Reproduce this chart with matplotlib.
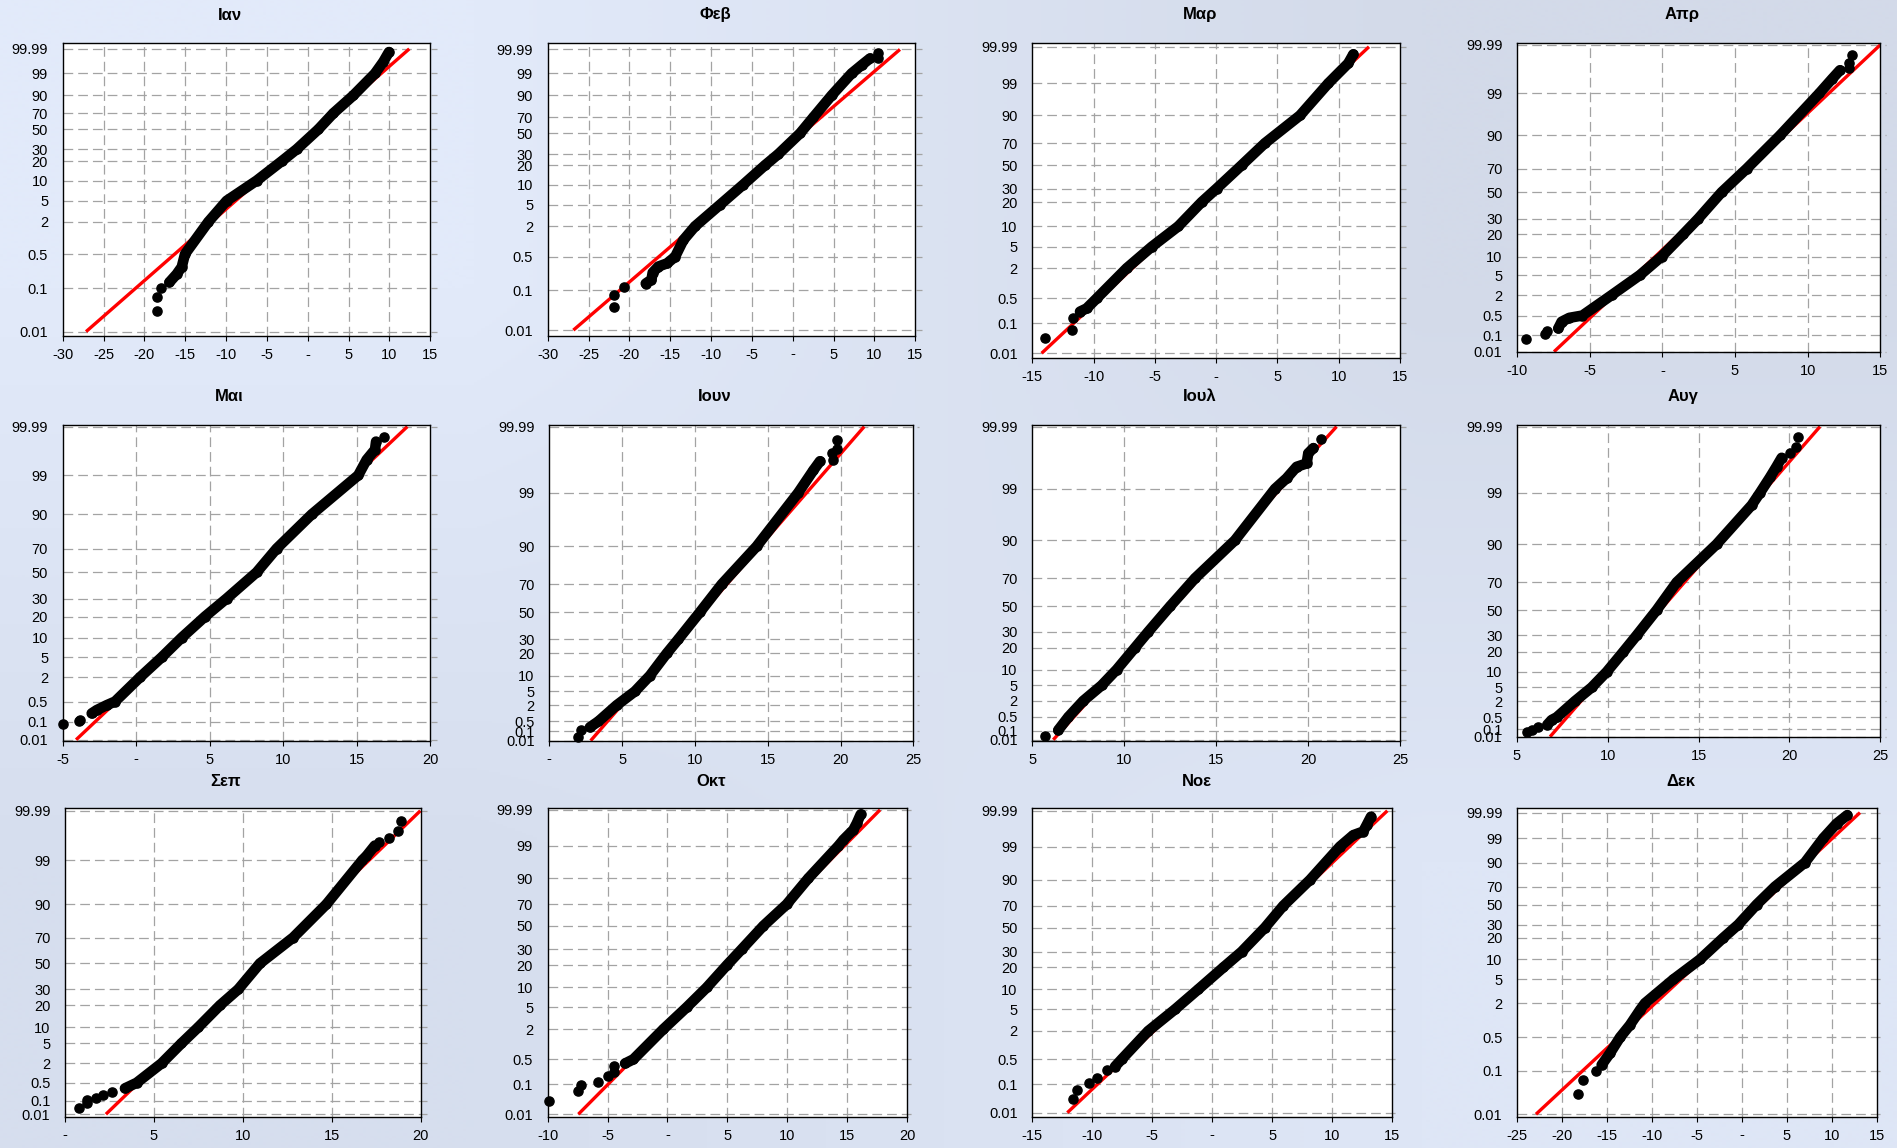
import matplotlib
matplotlib.use("Agg")
import matplotlib.pyplot as plt
import numpy as np
from statistics import NormalDist

plt.rcParams['font.family'] = ['Liberation Sans', 'DejaVu Sans']
plt.rcParams['lines.scale_dashes'] = False

W, H, DPI = 1897, 1148, 100

# probability axis (cumulative %, normal probability paper)
levels = [0.01, 0.1, 0.5, 2, 5, 10, 20, 30, 50, 70, 90, 99, 99.99]
level_labels = ['0.01', '0.1', '0.5', '2', '5', '10', '20', '30', '50', '70', '90', '99', '99.99']

months = ['Ιαν', 'Φεβ', 'Μαρ', 'Απρ', 'Μαι', 'Ιουν', 'Ιουλ', 'Αυγ', 'Σεπ', 'Οκτ', 'Νοε', 'Δεκ']
x_range = [(-30, 15), (-30, 15), (-15, 15), (-10, 15),
           (-5, 20), (0, 25), (5, 25), (5, 25),
           (0, 20), (-10, 20), (-15, 15), (-25, 15)]

# ordered sample values (x) and their plotting positions (cumulative %)
jan_x = [9.94, 9.25, 8.23, 5.58, 3.13, 1.29, -1.36, -3.2, -6.25, -9.93, -12.17, -15.03, -15.43, -16.05, -16.94, -17.92, -18.41, -18.41]
jan_p = [99.98, 99.86, 99, 90, 70, 50, 30, 20, 10, 5, 2, 0.5, 0.28, 0.2, 0.135, 0.1, 0.066, 0.031]
feb_x = [10.47, 10.47, 9.45, 8.43, 7.2, 4.76, 2.52, 0.89, -1.77, -3.4, -6.05, -8.9, -11.97, -13.4, -14.4, -15.4, -16.45, -17.15, -17.3, -18.0, -20.66, -21.9, -21.9]
feb_p = [99.98, 99.93, 99.93, 99.75, 99, 90, 70, 50, 30, 20, 10, 5, 2, 1.1, 0.5, 0.37, 0.32, 0.24, 0.17, 0.14, 0.12, 0.077, 0.04]
mar_x = [11.19, 10.78, 9.15, 6.84, 3.98, 2.08, 0.04, -1.18, -3.09, -5.26, -7.3, -9.75, -10.57, -11.11, -11.65, -11.79, -13.94]
mar_p = [99.97, 99.9, 99, 90, 70, 50, 30, 20, 10, 5, 2, 0.5, 0.27, 0.22, 0.14, 0.062, 0.034]
apr_x = [13.03, 12.87, 12.87, 12.22, 11.65, 10.8, 8.1, 5.8, 4.08, 2.48, 1.44, -0.05, -1.54, -3.49, -5.5, -6.4, -6.93, -7.16, -7.91, -8.07, -9.38]
apr_p = [99.97, 99.93, 99.89, 99.86, 99.68, 99, 90, 70, 50, 30, 20, 10, 5, 2, 0.5, 0.42, 0.31, 0.18, 0.14, 0.11, 0.062]
may_x = [16.85, 16.31, 16.24, 15.67, 15.1, 11.93, 9.55, 8.19, 6.15, 4.68, 3.09, 1.73, 0.26, -1.44, -2.01, -2.69, -3.03, -3.8, -3.87, -5.0]
may_p = [99.97, 99.95, 99.89, 99.72, 99, 90, 70, 50, 30, 20, 10, 5, 2, 0.5, 0.38, 0.26, 0.2, 0.12, 0.11, 0.077]
jun_x = [19.73, 19.73, 19.39, 19.5, 18.59, 18.13, 17.1, 14.24, 11.84, 10.35, 8.86, 8.06, 6.91, 5.88, 4.62, 3.37, 2.79, 2.15, 1.99]
jun_p = [99.97, 99.94, 99.92, 99.87, 99.86, 99.74, 99, 90, 70, 50, 30, 20, 10, 5, 2, 0.5, 0.2, 0.13, 0.028]
jul_x = [20.7, 20.29, 20.01, 19.92, 19.38, 18.83, 18.2, 16.02, 13.85, 12.49, 11.31, 10.58, 9.59, 8.77, 7.77, 6.96, 6.41, 5.69]
jul_p = [99.97, 99.94, 99.91, 99.81, 99.76, 99.48, 99, 90, 70, 50, 30, 20, 10, 5, 2, 0.5, 0.11, 0.028]
aug_x = [20.49, 20.36, 20.03, 19.57, 19.29, 18.93, 18.38, 17.92, 15.99, 13.79, 12.69, 11.59, 10.85, 9.94, 9.11, 8.19, 7.18, 6.91, 6.67, 6.14, 5.81, 5.53]
aug_p = [99.976, 99.95, 99.92, 99.89, 99.8, 99.6, 99, 98.1, 90, 70, 50, 30, 20, 10, 5, 2, 0.5, 0.36, 0.19, 0.135, 0.082, 0.04]
sep_x = [18.91, 18.73, 18.22, 17.66, 17.42, 16.95, 16.72, 14.7, 12.83, 10.96, 9.74, 8.71, 7.49, 6.55, 5.43, 4.03, 3.37, 2.62, 2.15, 1.74, 1.25, 1.25, 0.81]
sep_p = [99.97, 99.92, 99.84, 99.77, 99.69, 99.27, 99, 90, 70, 50, 30, 20, 10, 5, 2, 0.5, 0.31, 0.23, 0.17, 0.13, 0.11, 0.074, 0.032]
oct_x = [16.13, 15.8, 15.52, 14.69, 14.27, 11.76, 9.96, 8.01, 6.2, 4.95, 3.28, 1.61, -0.34, -2.85, -3.54, -4.46, -4.46, -4.93, -5.77, -7.24, -7.44, -9.92]
oct_p = [99.98, 99.93, 99.84, 99.48, 99, 90, 70, 50, 30, 20, 10, 5, 2, 0.5, 0.39, 0.34, 0.23, 0.18, 0.12, 0.097, 0.06, 0.028]
nov_x = [13.25, 12.88, 12.6, 11.77, 10.66, 8.16, 5.93, 4.4, 2.46, 0.93, -1.16, -3.1, -5.33, -7.55, -8.11, -8.8, -9.63, -10.27, -11.3, -11.64]
nov_p = [99.976, 99.92, 99.82, 99.72, 99, 90, 70, 50, 30, 20, 10, 5, 2, 0.5, 0.32, 0.26, 0.15, 0.107, 0.064, 0.031]
dec_x = [11.73, 10.54, 9.06, 7.02, 3.69, 1.65, -0.39, -2.06, -4.65, -7.62, -10.77, -11.32, -12.44, -13.55, -14.66, -15.59, -16.25, -17.62, -18.25]
dec_p = [99.983, 99.91, 99, 90, 70, 50, 30, 20, 10, 5, 2, 1.55, 0.85, 0.5, 0.24, 0.135, 0.097, 0.064, 0.031]

values = [jan_x, feb_x, mar_x, apr_x, may_x, jun_x, jul_x, aug_x, sep_x, oct_x, nov_x, dec_x]
probs = [jan_p, feb_p, mar_p, apr_p, may_p, jun_p, jul_p, aug_p, sep_p, oct_p, nov_p, dec_p]

# how many of the largest / smallest values stand apart from the dense run
top_single = [0, 2, 0, 3, 1, 4, 1, 3, 4, 0, 0, 0]
bottom_single = [3, 3, 3, 3, 3, 2, 1, 3, 6, 7, 5, 3]

# fitted normal line: value at 0.01 % and at 99.99 %
fit_lo = [-27.14, -26.86, -14.24, -7.45, -4.09, 2.84, 6.14, 6.82, 2.30, -7.44, -12.08, -22.89]
fit_hi = [12.43, 13.12, 12.47, 15.0, 18.44, 21.63, 21.55, 21.68, 19.98, 17.75, 14.61, 13.14]

# height of each probability gridline inside its panel (axes fraction)
grid_frac = [
    [0.015, 0.163, 0.280, 0.390, 0.462, 0.531, 0.597, 0.638, 0.706, 0.761, 0.822, 0.897, 0.981],
    [0.019, 0.156, 0.270, 0.374, 0.448, 0.517, 0.583, 0.621, 0.692, 0.747, 0.822, 0.897, 0.979],
    [0.016, 0.111, 0.190, 0.286, 0.354, 0.419, 0.496, 0.539, 0.613, 0.683, 0.771, 0.873, 0.989],
    [0.002, 0.055, 0.119, 0.185, 0.250, 0.310, 0.382, 0.433, 0.518, 0.594, 0.702, 0.838, 0.995],
    [0.003, 0.060, 0.124, 0.201, 0.264, 0.326, 0.393, 0.450, 0.533, 0.608, 0.716, 0.840, 0.994],
    [0.000, 0.030, 0.061, 0.112, 0.156, 0.206, 0.276, 0.321, 0.407, 0.495, 0.615, 0.785, 0.994],
    [0.003, 0.031, 0.075, 0.126, 0.175, 0.225, 0.294, 0.345, 0.425, 0.514, 0.634, 0.797, 0.994],
    [0.000, 0.024, 0.062, 0.114, 0.158, 0.208, 0.272, 0.325, 0.406, 0.495, 0.617, 0.782, 0.994],
    [0.008, 0.052, 0.110, 0.173, 0.238, 0.290, 0.361, 0.413, 0.497, 0.581, 0.689, 0.832, 0.992],
    [0.008, 0.105, 0.186, 0.284, 0.355, 0.419, 0.491, 0.543, 0.619, 0.689, 0.773, 0.878, 0.995],
    [0.013, 0.105, 0.186, 0.278, 0.348, 0.413, 0.484, 0.535, 0.613, 0.684, 0.768, 0.876, 0.992],
    [0.008, 0.149, 0.257, 0.368, 0.445, 0.510, 0.580, 0.623, 0.688, 0.746, 0.824, 0.903, 0.986],
]

# panel frames in pixels: left, right, top, bottom
frames = [(62.7, 430.3, 43.3, 336.0), (547.7, 915.3, 43.3, 335.7), (1032.3, 1400, 43.3, 358.3), (1517, 1880.3, 43.3, 352.3),
          (62.7, 430.3, 424.7, 740.7), (549.3, 913.3, 424.7, 740.7), (1032.3, 1400, 424.7, 740.7), (1517, 1880.3, 424.7, 736.7),
          (65, 420.7, 808.3, 1116.7), (547.7, 907, 808.3, 1116.7), (1032.3, 1392, 808.3, 1116.7), (1517, 1876.7, 808.3, 1116.7)]
title_xy = [(230, 15), (715, 15), (1200, 15), (1682, 15),
            (229, 396), (715, 396), (1200, 396), (1683, 396),
            (226, 782), (711, 782), (1197, 782), (1681, 782)]

nd = NormalDist()
level_z = [nd.inv_cdf(v / 100) for v in levels]


def prob_to_frac(p, fr):
    z = [nd.inv_cdf(v / 100) for v in p]
    return np.interp(z, level_z, fr)


fig = plt.figure(figsize=(W / DPI, H / DPI), dpi=DPI)

# background gradient
bg = fig.add_axes([0, 0, 1, 1], zorder=-10)
corners = np.array([[[214, 222, 238], [222, 230, 246]],
                    [[226, 234, 250], [211, 218, 233]]]) / 255.0
bg.imshow(corners, extent=[0, 1, 0, 1], aspect='auto', interpolation='bilinear', origin='lower')
bg.axis('off')

grid_kw = dict(color='#a3a3a3', lw=0.9, dashes=(7, 3.6))
dot_kw = dict(color='black', zorder=3, clip_on=False)

for i, name in enumerate(months):
    l, r, t, b = frames[i]
    ax = fig.add_axes([l / W, 1 - b / H, (r - l) / W, (b - t) / H])
    ax.set_facecolor('white')
    x0, x1 = x_range[i]
    ax.set_xlim(x0, x1)
    ax.set_ylim(0, 1)
    fr = grid_frac[i]

    # grid
    xt = np.arange(x0, x1 + 0.1, 5)
    for xv in xt[1:-1]:
        ax.plot([xv, xv], [0, 1], zorder=1, **grid_kw)
    for f in fr:
        ax.plot([0, 1.017], [f, f], transform=ax.get_yaxis_transform(),
                clip_on=False, zorder=1, **grid_kw)

    # fitted line
    ax.plot([fit_lo[i], fit_hi[i]], prob_to_frac([levels[0], levels[-1]], fr),
            color='#ff0000', lw=2.4, zorder=2, solid_capstyle='butt')

    # sample points: dense run drawn as a thick trace, plus every point as a dot
    xs = np.array(values[i], dtype=float)
    ys = prob_to_frac(probs[i], fr)
    a, e = top_single[i], len(xs) - bottom_single[i]
    ax.plot(xs[a:e], ys[a:e], lw=7.6, solid_capstyle='round',
            solid_joinstyle='round', **dot_kw)
    ax.plot(xs, ys, 'o', ms=6.6, **dot_kw)

    # axes styling
    for s in ax.spines.values():
        s.set_color('black')
        s.set_linewidth(1.0)
        s.set_zorder(4)
    ax.set_xticks(xt)
    ax.set_xticklabels(['-' if v == 0 else str(int(v)) for v in xt])
    ax.set_yticks(fr)
    ax.set_yticklabels(level_labels)
    ax.tick_params(axis='x', direction='out', length=3.5, width=0.8, pad=5,
                   labelsize=10.5, colors='black')
    ax.tick_params(axis='y', length=0, pad=10.5, labelsize=10.5, colors='black')

    fig.text(title_xy[i][0] / W, 1 - title_xy[i][1] / H, name, ha='center', va='center',
             fontsize=12, fontweight='bold', color='black')

fig.savefig('out.png', dpi=DPI)
